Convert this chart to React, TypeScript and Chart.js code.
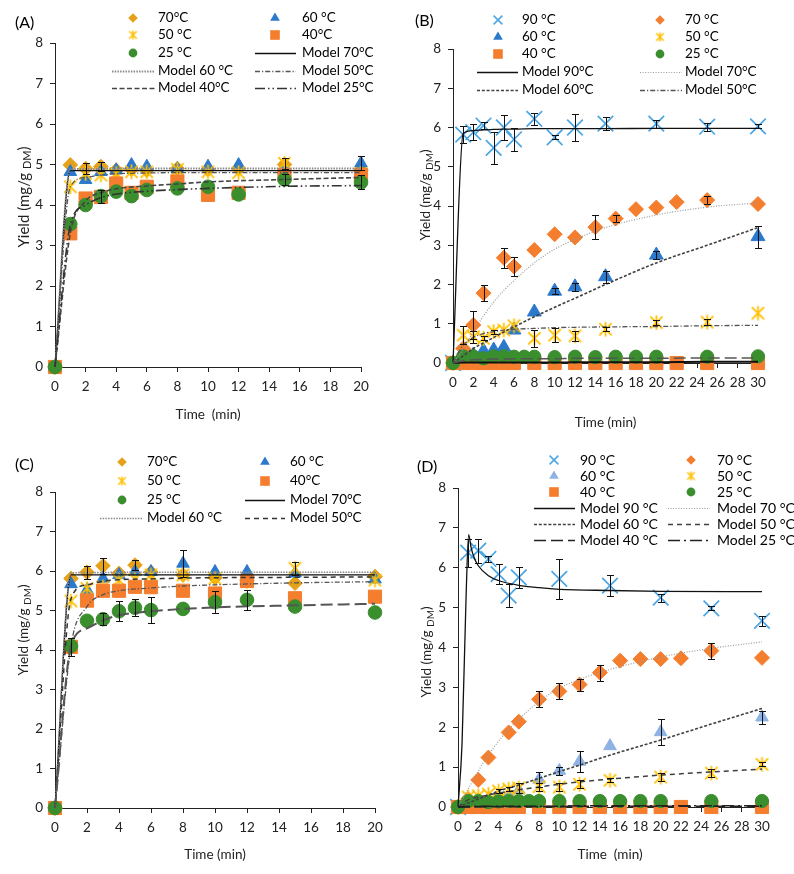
import React, { useEffect, useRef } from 'react';
import { Chart, registerables } from 'chart.js';

Chart.register(...registerables);

const FONT = 'Lato, "Open Sans", "DejaVu Sans", sans-serif';

const GOLD = '#E6A11B';
const BLUE = '#2C79CC';
const YELLOW = '#FFC000';
const ORANGE = '#F47E2E';
const GREEN = '#3A8E2E';
const SKY = '#4AA6E4';
const PALE = '#8EB2E4';

// ---------------- Panel A data ----------------
const A_T = [0, 1, 2, 3, 4, 5, 6, 8, 10, 12, 15, 20];
const A_70 = [0, 4.99, 4.9, 4.95, 4.86, 4.88, 4.86, 4.9, 4.88, 4.9, 5.0, 4.86];
const A_60 = [0, 4.82, 4.62, 4.82, 4.86, 4.99, 4.95, 4.89, 4.95, 4.99, 4.88, 5.03];
const A_50 = [0, 4.45, 4.78, 4.74, 4.78, 4.82, 4.82, 4.88, 4.82, 4.8, 5.03, 4.78];
const A_40 = [0, 3.3, 4.16, 4.2, 4.53, 4.3, 4.45, 4.58, 4.25, 4.3, 4.74, 4.74];
const A_25 = [0, 3.53, 4.0, 4.22, 4.33, 4.22, 4.37, 4.41, 4.45, 4.26, 4.63, 4.56];
const A_E70 = [0, 0, 0.13, 0.1, 0, 0, 0, 0, 0, 0, 0, 0];
const A_E60 = [0, 0, 0, 0, 0, 0, 0, 0, 0, 0, 0, 0.17];
const A_E50 = [0, 0, 0, 0, 0, 0, 0, 0, 0, 0, 0.14, 0];
const A_E25 = [0, 0, 0, 0.16, 0, 0, 0, 0, 0, 0, 0.14, 0.17];
const A_MT = [0, 1, 2, 3, 4, 6, 8, 10, 15, 20];
const A_M70 = [0, 4.85, 4.85, 4.85, 4.85, 4.85, 4.85, 4.85, 4.85, 4.85];
const A_M60 = [0, 4.88, 4.89, 4.89, 4.9, 4.9, 4.9, 4.9, 4.9, 4.9];
const A_M50 = [0, 4.45, 4.68, 4.74, 4.77, 4.79, 4.8, 4.8, 4.8, 4.8];
const A_M40 = [0, 3.3, 4.1, 4.3, 4.4, 4.47, 4.52, 4.57, 4.63, 4.68];
const A_M25 = [0, 3.5, 4.0, 4.18, 4.27, 4.34, 4.38, 4.41, 4.46, 4.48];

// ---------------- Panel B data ----------------
const B_T90 = [0, 1, 2, 3, 4, 5, 6, 8, 10, 12, 15, 20, 25, 30];
const B_90 = [0, 5.82, 5.88, 6.05, 5.48, 6.0, 5.7, 6.22, 5.75, 6.0, 6.1, 6.1, 6.02, 6.03];
const B_E90 = [0, 0.22, 0.2, 0.08, 0.4, 0.33, 0.3, 0.15, 0.05, 0.35, 0.17, 0.1, 0.1, 0.05];
const B_T70 = [0, 1, 2, 3, 5, 6, 8, 10, 12, 14, 16, 18, 20, 22, 25, 30];
const B_70 = [0, 0.37, 0.97, 1.78, 2.68, 2.46, 2.88, 3.28, 3.2, 3.46, 3.68, 3.92, 3.96, 4.1, 4.15, 4.05];
const B_E70 = [0, 0, 0.35, 0.2, 0.25, 0.25, 0, 0, 0, 0.3, 0.1, 0, 0, 0, 0.1, 0];
const B_T60 = [0, 1, 2, 3, 4, 5, 6, 8, 10, 12, 15, 20, 30];
const B_60 = [0, 0.15, 0.2, 0.31, 0.33, 0.4, 0.84, 1.3, 1.83, 1.94, 2.2, 2.75, 3.22];
const B_E60 = [0, 0, 0, 0, 0, 0, 0, 0, 0.07, 0.1, 0.15, 0.1, 0.28];
const B_T50 = [0, 1, 2, 3, 4, 5, 6, 8, 10, 12, 15, 20, 25, 30];
const B_50 = [0, 0.71, 0.67, 0.63, 0.8, 0.84, 0.95, 0.63, 0.71, 0.69, 0.86, 1.03, 1.04, 1.27];
const B_E50 = [0, 0.22, 0.15, 0.05, 0.05, 0, 0, 0.22, 0.17, 0.13, 0.05, 0.07, 0.08, 0];
const B_T40 = [0, 1, 2, 3, 4, 5, 6, 8, 10, 12, 14, 16, 18, 20, 22, 25, 30];
const B_40 = [0, 0, 0, 0, 0, 0, 0, 0, 0, 0, 0, 0, 0, 0, 0, 0, 0];
const B_T25 = [0, 1, 2, 3, 4, 5, 6, 7, 8, 10, 12, 14, 16, 18, 20, 25, 30];
const B_25 = [0, 0.17, 0.17, 0.12, 0.17, 0.17, 0.16, 0.16, 0.16, 0.15, 0.16, 0.15, 0.16, 0.16, 0.16, 0.16, 0.17];
const B_MT = [0, 1, 2, 3, 4, 5, 6, 8, 10, 12, 15, 20, 25, 30];
const B_M90 = [0, 5.85, 5.92, 5.94, 5.95, 5.96, 5.96, 5.97, 5.97, 5.97, 5.97, 5.98, 5.98, 5.98];
const B_M70 = [0, 0.35, 0.8, 1.2, 1.55, 1.85, 2.1, 2.55, 2.9, 3.15, 3.45, 3.77, 3.97, 4.08];
const B_M60 = [0, 0.18, 0.37, 0.51, 0.65, 0.79, 0.92, 1.18, 1.42, 1.65, 2.0, 2.55, 3.0, 3.45];
const B_M50 = [0, 0.45, 0.65, 0.75, 0.8, 0.84, 0.86, 0.88, 0.9, 0.91, 0.92, 0.93, 0.95, 0.96];
const B_M40 = [0, 0.01, 0.01, 0.01, 0.01, 0.01, 0.01, 0.01, 0.01, 0.02, 0.02, 0.02, 0.03, 0.03];
const B_M25 = [0, 0.06, 0.08, 0.09, 0.1, 0.1, 0.11, 0.11, 0.11, 0.12, 0.12, 0.12, 0.13, 0.13];

// ---------------- Panel C data ----------------
const C_T = [0, 1, 2, 3, 4, 5, 6, 8, 10, 12, 15, 20];
const C_70 = [0, 5.81, 5.97, 6.13, 5.94, 6.15, 5.97, 5.9, 5.83, 5.77, 5.69, 5.86];
const C_60 = [0, 5.67, 5.52, 5.81, 5.9, 5.98, 5.98, 6.19, 5.98, 5.98, 5.94, 5.79];
const C_50 = [0, 5.24, 5.56, 5.6, 5.77, 5.79, 5.9, 5.9, 5.81, 5.73, 6.07, 5.77];
const C_40 = [0, 4.08, 5.25, 5.5, 5.5, 5.6, 5.59, 5.5, 5.43, 5.75, 5.31, 5.35];
const C_25 = [0, 4.1, 4.74, 4.78, 4.98, 5.07, 5.01, 5.04, 5.21, 5.27, 5.1, 4.95];
const C_E70 = [0, 0, 0.16, 0.2, 0, 0.13, 0, 0, 0, 0, 0, 0];
const C_E60 = [0, 0, 0, 0, 0, 0, 0, 0.35, 0, 0, 0, 0];
const C_E50 = [0, 0, 0, 0, 0, 0, 0, 0, 0, 0, 0.17, 0];
const C_E40 = [0, 0.22, 0, 0, 0, 0, 0, 0, 0, 0, 0, 0];
const C_E25 = [0, 0, 0, 0.15, 0.25, 0.22, 0.33, 0, 0.28, 0.25, 0, 0];
const C_MT = [0, 1, 2, 3, 4, 6, 8, 10, 15, 20];
const C_M70 = [0, 5.9, 5.9, 5.9, 5.9, 5.9, 5.9, 5.9, 5.9, 5.9];
const C_M60 = [0, 5.95, 5.96, 5.96, 5.97, 5.97, 5.97, 5.97, 5.97, 5.97];
const C_M50 = [0, 5.3, 5.65, 5.74, 5.78, 5.8, 5.82, 5.83, 5.84, 5.85];
const C_M40 = [0, 4.1, 5.1, 5.4, 5.5, 5.57, 5.62, 5.65, 5.7, 5.73];
const C_M25 = [0, 4.1, 4.55, 4.75, 4.88, 4.98, 5.04, 5.08, 5.13, 5.17];

// ---------------- Panel D data ----------------
const D_T90 = [0, 1, 2, 3, 4, 5, 6, 10, 15, 20, 25, 30];
const D_90 = [0, 6.38, 6.43, 6.22, 5.84, 5.3, 5.76, 5.72, 5.55, 5.25, 4.98, 4.67];
const D_E90 = [0, 0.35, 0.3, 0.08, 0.25, 0.28, 0.27, 0.5, 0.27, 0.1, 0.05, 0.13];
const D_T70 = [0, 1, 2, 3, 5, 6, 8, 10, 12, 14, 16, 18, 20, 22, 25, 30];
const D_70 = [0, 0.2, 0.68, 1.24, 1.87, 2.14, 2.7, 2.9, 3.07, 3.37, 3.67, 3.71, 3.71, 3.73, 3.92, 3.74];
const D_E70 = [0, 0, 0, 0, 0, 0, 0.2, 0.2, 0.15, 0.2, 0, 0, 0, 0, 0.2, 0];
const D_T60 = [0, 1, 2, 3, 4, 5, 6, 8, 10, 12, 15, 20, 30];
const D_60 = [0, 0.15, 0.17, 0.2, 0.24, 0.3, 0.42, 0.69, 0.91, 1.14, 1.53, 1.88, 2.25];
const D_E60 = [0, 0, 0, 0, 0, 0, 0, 0.2, 0.1, 0.27, 0, 0.33, 0.17];
const D_T50 = [0, 1, 2, 3, 4, 5, 6, 8, 10, 12, 15, 20, 25, 30];
const D_50 = [0, 0.25, 0.28, 0.32, 0.4, 0.45, 0.48, 0.51, 0.5, 0.57, 0.67, 0.75, 0.85, 1.07];
const D_E50 = [0, 0, 0, 0, 0.05, 0.05, 0.12, 0.1, 0.1, 0.1, 0.05, 0.1, 0.1, 0.05];
const D_T40 = [0, 1, 2, 3, 4, 5, 6, 8, 10, 12, 14, 16, 18, 20, 22, 25, 30];
const D_40 = [0, 0, 0, 0, 0, 0, 0, 0, 0, 0, 0, 0, 0, 0, 0, 0, 0];
const D_T25 = [0, 1, 2, 3, 4, 5, 6, 7, 8, 10, 12, 14, 16, 18, 20, 25, 30];
const D_25 = [0, 0.15, 0.15, 0.12, 0.14, 0.15, 0.15, 0.15, 0.15, 0.15, 0.15, 0.15, 0.15, 0.15, 0.15, 0.15, 0.15];
const D_MT90 = [0, 0.4, 0.8, 1.05, 1.3, 1.6, 2, 3, 4, 6, 8, 10, 15, 20, 30];
const D_M90 = [0, 1.6, 5.3, 6.83, 6.5, 6.25, 6.05, 5.8, 5.68, 5.56, 5.5, 5.46, 5.43, 5.41, 5.4];
const D_MT = [0, 1, 2, 3, 4, 5, 6, 8, 10, 12, 15, 20, 25, 30];
const D_M70 = [0, 0.45, 0.9, 1.3, 1.65, 1.95, 2.2, 2.65, 2.98, 3.2, 3.45, 3.76, 3.98, 4.14];
const D_M60 = [0, 0.1, 0.2, 0.3, 0.4, 0.48, 0.55, 0.72, 0.89, 1.05, 1.3, 1.68, 2.08, 2.47];
const D_M50 = [0, 0.18, 0.25, 0.3, 0.35, 0.39, 0.43, 0.5, 0.57, 0.63, 0.7, 0.8, 0.88, 0.95];
const D_M40 = [0, 0.01, 0.01, 0.01, 0.01, 0.01, 0.01, 0.01, 0.01, 0.02, 0.02, 0.02, 0.02, 0.02];
const D_M25 = [0, 0.01, 0.01, 0.02, 0.02, 0.02, 0.02, 0.02, 0.02, 0.03, 0.03, 0.03, 0.03, 0.03];

const Y_TICKS_MAX = 8;

// ---------------- types & config ----------------
type Marker = 'circle' | 'rect' | 'rectRot' | 'triangle' | 'crossRot' | 'asterisk';
interface MS { name: string; t: number[]; v: number[]; e?: number[]; style: Marker; color: string; r: number; }
interface LS { name: string; t: number[]; v: number[]; dash: number[]; color: string; width: number; }
interface Col { m: number; l0: number; l1: number; tx: number; }
interface PanelCfg {
  id: string; left: number; top: number; xmax: number;
  area: { l: number; r: number; t: number; b: number };
  xTitle: string; xTitlePad: number;
  yTitle: { x: number; y: number; size: number };
  label: { x: number; y: number };
  markers: MS[]; lines: LS[];
  legend: { names: string[]; cols: Col[]; rows: number[]; size: number };
}

const W = 397;
const H = 437;

const SOLID: number[] = [];
const DOT_GRAY = [1.5, 1.2];
const DOT_FINE = [1, 1.6];
const DASH_DOT = [5, 2, 1.2, 2];
const DASH = [5, 2.5];
const DASH_SHORT = [3, 1.8];
const DASH_MED = [5, 4];
const LONG_DASH = [12, 5];
const LONG_DASH_DOT_DOT = [10, 3, 1.5, 3, 1.5, 3];
const LONG_DASH_DOT = [12, 4, 2, 4];

const PANELS: PanelCfg[] = [
  {
    id: 'A', left: 0, top: 0, xmax: 20,
    area: { l: 55, r: 361, t: 43, b: 367 },
    xTitle: 'Time  (min)', xTitlePad: 14,
    yTitle: { x: 24, y: 197, size: 15 },
    label: { x: 15, y: 23 },
    markers: [
      { name: '70°C', t: A_T, v: A_70, e: A_E70, style: 'rectRot', color: GOLD, r: 7.3 },
      { name: '60 °C', t: A_T, v: A_60, e: A_E60, style: 'triangle', color: BLUE, r: 7.3 },
      { name: '50 °C', t: A_T, v: A_50, e: A_E50, style: 'asterisk', color: YELLOW, r: 14.5 },
      { name: '40°C', t: A_T, v: A_40, style: 'rect', color: ORANGE, r: 9.3 },
      { name: '25 °C', t: A_T, v: A_25, e: A_E25, style: 'circle', color: GREEN, r: 6.8 },
    ],
    lines: [
      { name: 'Model 70°C', t: A_MT, v: A_M70, dash: SOLID, color: '#111', width: 1.3 },
      { name: 'Model 60 °C', t: A_MT, v: A_M60, dash: DOT_GRAY, color: '#8a8a8a', width: 2 },
      { name: 'Model 50°C', t: A_MT, v: A_M50, dash: DASH_DOT, color: '#555', width: 1.3 },
      { name: 'Model 40°C', t: A_MT, v: A_M40, dash: DASH, color: '#444', width: 1.6 },
      { name: 'Model 25°C', t: A_MT, v: A_M25, dash: LONG_DASH_DOT_DOT, color: '#333', width: 1.6 },
    ],
    legend: {
      names: ['70°C', '60 °C', '50 °C', '40°C', '25 °C', 'Model 70°C', 'Model 60 °C', 'Model 50°C', 'Model 40°C', 'Model 25°C'],
      cols: [{ m: 133, l0: 112, l1: 155, tx: 158 }, { m: 275, l0: 255, l1: 296, tx: 302 }],
      rows: [18, 35, 53, 71, 88], size: 13.5,
    },
  },
  {
    id: 'B', left: 397, top: 0, xmax: 30,
    area: { l: 56, r: 361, t: 49, b: 363 },
    xTitle: 'Time (min)', xTitlePad: 6,
    yTitle: { x: 29, y: 195, size: 13.5 },
    label: { x: 18, y: 21 },
    markers: [
      { name: '90 °C', t: B_T90, v: B_90, e: B_E90, style: 'crossRot', color: SKY, r: 11 },
      { name: '70 °C', t: B_T70, v: B_70, e: B_E70, style: 'rectRot', color: ORANGE, r: 7.5 },
      { name: '60 °C', t: B_T60, v: B_60, e: B_E60, style: 'triangle', color: BLUE, r: 8 },
      { name: '50 °C', t: B_T50, v: B_50, e: B_E50, style: 'asterisk', color: YELLOW, r: 14.5 },
      { name: '40 °C', t: B_T40, v: B_40, style: 'rect', color: ORANGE, r: 9.3 },
      { name: '25 °C', t: B_T25, v: B_25, style: 'circle', color: GREEN, r: 6.6 },
    ],
    lines: [
      { name: 'Model 90°C', t: B_MT, v: B_M90, dash: SOLID, color: '#111', width: 1.3 },
      { name: 'Model 70°C', t: B_MT, v: B_M70, dash: DOT_FINE, color: '#9a9a9a', width: 1.2 },
      { name: 'Model 60°C', t: B_MT, v: B_M60, dash: DASH_SHORT, color: '#404040', width: 1.6 },
      { name: 'Model 50°C', t: B_MT, v: B_M50, dash: DASH_DOT, color: '#555', width: 1.3 },
      { name: 'Model 40°C', t: B_MT, v: B_M40, dash: SOLID, color: '#111', width: 2 },
      { name: 'Model 25°C', t: B_MT, v: B_M25, dash: LONG_DASH, color: '#555', width: 1.5 },
    ],
    legend: {
      names: ['90 °C', '70 °C', '60 °C', '50 °C', '40 °C', '25 °C', 'Model 90°C', 'Model 70°C', 'Model 60°C', 'Model 50°C'],
      cols: [{ m: 101, l0: 80, l1: 121, tx: 125 }, { m: 263, l0: 243, l1: 285, tx: 288 }],
      rows: [20, 37, 54, 72, 90], size: 13.5,
    },
  },
  {
    id: 'C', left: 0, top: 437, xmax: 20,
    area: { l: 55, r: 375, t: 55, b: 371 },
    xTitle: 'Time (min)', xTitlePad: 11,
    yTitle: { x: 24, y: 193, size: 13.5 },
    label: { x: 15, y: 28 },
    markers: [
      { name: '70°C', t: C_T, v: C_70, e: C_E70, style: 'rectRot', color: GOLD, r: 7.3 },
      { name: '60 °C', t: C_T, v: C_60, e: C_E60, style: 'triangle', color: BLUE, r: 7.3 },
      { name: '50 °C', t: C_T, v: C_50, e: C_E50, style: 'asterisk', color: YELLOW, r: 14.5 },
      { name: '40°C', t: C_T, v: C_40, e: C_E40, style: 'rect', color: ORANGE, r: 9.3 },
      { name: '25 °C', t: C_T, v: C_25, e: C_E25, style: 'circle', color: GREEN, r: 6.8 },
    ],
    lines: [
      { name: 'Model 70°C', t: C_MT, v: C_M70, dash: SOLID, color: '#111', width: 1.3 },
      { name: 'Model 60 °C', t: C_MT, v: C_M60, dash: DOT_GRAY, color: '#8a8a8a', width: 1.6 },
      { name: 'Model 50°C', t: C_MT, v: C_M50, dash: DASH_MED, color: '#333', width: 1.5 },
      { name: 'Model 40°C', t: C_MT, v: C_M40, dash: DASH_DOT, color: '#555', width: 1.3 },
      { name: 'Model 25°C', t: C_MT, v: C_M25, dash: LONG_DASH, color: '#555', width: 2 },
    ],
    legend: {
      names: ['70°C', '60 °C', '50 °C', '40°C', '25 °C', 'Model 70°C', 'Model 60 °C', 'Model 50°C'],
      cols: [{ m: 122, l0: 100, l1: 142, tx: 147 }, { m: 265, l0: 245, l1: 285, tx: 290 }],
      rows: [25, 44, 63, 81], size: 13.5,
    },
  },
  {
    id: 'D', left: 397, top: 437, xmax: 30,
    area: { l: 61, r: 365, t: 51, b: 370 },
    xTitle: 'Time  (min)', xTitlePad: 11,
    yTitle: { x: 30, y: 215, size: 13.5 },
    label: { x: 20, y: 30 },
    markers: [
      { name: '90 °C', t: D_T90, v: D_90, e: D_E90, style: 'crossRot', color: SKY, r: 11 },
      { name: '70 °C', t: D_T70, v: D_70, e: D_E70, style: 'rectRot', color: ORANGE, r: 7.5 },
      { name: '60 °C', t: D_T60, v: D_60, e: D_E60, style: 'triangle', color: PALE, r: 7.3 },
      { name: '50 °C', t: D_T50, v: D_50, e: D_E50, style: 'asterisk', color: YELLOW, r: 14.5 },
      { name: '40 °C', t: D_T40, v: D_40, style: 'rect', color: ORANGE, r: 9.3 },
      { name: '25 °C', t: D_T25, v: D_25, style: 'circle', color: GREEN, r: 6.6 },
    ],
    lines: [
      { name: 'Model 90 °C', t: D_MT90, v: D_M90, dash: SOLID, color: '#111', width: 1.3 },
      { name: 'Model 70 °C', t: D_MT, v: D_M70, dash: DOT_FINE, color: '#9a9a9a', width: 1.2 },
      { name: 'Model 60 °C', t: D_MT, v: D_M60, dash: DASH_SHORT, color: '#404040', width: 1.6 },
      { name: 'Model 50 °C', t: D_MT, v: D_M50, dash: DASH_MED, color: '#404040', width: 1.5 },
      { name: 'Model 40 °C', t: D_MT, v: D_M40, dash: LONG_DASH, color: '#222', width: 1.6 },
      { name: 'Model 25 °C', t: D_MT, v: D_M25, dash: LONG_DASH_DOT, color: '#222', width: 1.6 },
    ],
    legend: {
      names: ['90 °C', '70 °C', '60 °C', '50 °C', '40 °C', '25 °C', 'Model 90 °C', 'Model 70 °C', 'Model 60 °C', 'Model 50 °C', 'Model 40 °C', 'Model 25 °C'],
      cols: [{ m: 157, l0: 137, l1: 178, tx: 183 }, { m: 294, l0: 271, l1: 313, tx: 320 }],
      rows: [23, 39, 55, 71, 87, 103], size: 14,
    },
  },
];

// ---------------- drawing helpers ----------------
function makeAsterisk(size: number, color: string, lw: number): HTMLCanvasElement {
  const n = Math.ceil(size + lw + 2);
  const c = document.createElement('canvas');
  c.width = n;
  c.height = n;
  const g = c.getContext('2d') as CanvasRenderingContext2D;
  const m = n / 2;
  const h = size / 2;
  const d = h * 0.85;
  g.strokeStyle = color;
  g.lineWidth = lw;
  g.beginPath();
  g.moveTo(m, m - h);
  g.lineTo(m, m + h);
  g.moveTo(m - d, m - d);
  g.lineTo(m + d, m + d);
  g.moveTo(m + d, m - d);
  g.lineTo(m - d, m + d);
  g.stroke();
  return c;
}

function drawMarker(ctx: CanvasRenderingContext2D, style: Marker, x: number, y: number, color: string) {
  ctx.save();
  ctx.fillStyle = color;
  ctx.strokeStyle = color;
  ctx.beginPath();
  if (style === 'circle') {
    ctx.arc(x, y, 4.4, 0, Math.PI * 2);
    ctx.fill();
  } else if (style === 'rect') {
    ctx.rect(x - 4.8, y - 4.8, 9.6, 9.6);
    ctx.fill();
  } else if (style === 'rectRot') {
    const r = 4.8;
    ctx.moveTo(x, y - r);
    ctx.lineTo(x + r, y);
    ctx.lineTo(x, y + r);
    ctx.lineTo(x - r, y);
    ctx.closePath();
    ctx.fill();
  } else if (style === 'triangle') {
    const r = 5.6;
    ctx.moveTo(x, y - r);
    ctx.lineTo(x + r * 0.866, y + r * 0.5);
    ctx.lineTo(x - r * 0.866, y + r * 0.5);
    ctx.closePath();
    ctx.fill();
  } else if (style === 'crossRot') {
    const d = 4.4;
    ctx.lineWidth = 1.5;
    ctx.moveTo(x - d, y - d);
    ctx.lineTo(x + d, y + d);
    ctx.moveTo(x + d, y - d);
    ctx.lineTo(x - d, y + d);
    ctx.stroke();
  } else if (style === 'asterisk') {
    const img = makeAsterisk(9, color, 1.5);
    ctx.drawImage(img, x - img.width / 2, y - img.height / 2);
  }
  ctx.restore();
}

function Panel({ cfg }: { cfg: PanelCfg }) {
  const ref = useRef<HTMLCanvasElement>(null);

  useEffect(() => {
    const canvas = ref.current;
    if (!canvas) return;
    const total = cfg.markers.length + cfg.lines.length;
    const nm = cfg.markers.length;

    const markerSets = cfg.markers.map((s, i) => ({
      label: s.name,
      data: s.t.map((t, j) => ({ x: t, y: s.v[j] })),
      errs: s.e || null,
      showLine: false,
      pointStyle: s.style === 'asterisk' ? makeAsterisk(s.r, s.color, 1.8) : s.style,
      pointRadius: s.style === 'asterisk' ? s.r / 2 : s.r,
      pointHoverRadius: s.style === 'asterisk' ? s.r / 2 : s.r,
      pointBackgroundColor: s.color,
      pointBorderColor: s.color,
      pointBorderWidth: s.style === 'crossRot' ? 1.7 : 1,
      backgroundColor: s.color,
      borderColor: s.color,
      clip: false,
      order: total - i,
    }));

    const lineSets = cfg.lines.map((l, k) => ({
      label: l.name,
      data: l.t.map((t, j) => ({ x: t, y: l.v[j] })),
      showLine: true,
      pointRadius: 0,
      pointHoverRadius: 0,
      borderColor: l.color,
      borderWidth: l.width,
      borderDash: l.dash,
      fill: false,
      cubicInterpolationMode: 'monotone',
      clip: false,
      order: total - (nm + k),
    }));

    const errorBars = {
      id: 'errorBars',
      afterDatasetsDraw(chart: any) {
        const ctx = chart.ctx as CanvasRenderingContext2D;
        const xs = chart.scales.x;
        const ys = chart.scales.y;
        ctx.save();
        ctx.strokeStyle = '#111';
        ctx.lineWidth = 1;
        chart.data.datasets.forEach((ds: any) => {
          if (!ds.errs) return;
          ds.data.forEach((p: any, j: number) => {
            const e = ds.errs[j];
            if (!e) return;
            const x = Math.round(xs.getPixelForValue(p.x)) + 0.5;
            const y1 = Math.round(ys.getPixelForValue(p.y - e)) + 0.5;
            const y2 = Math.round(ys.getPixelForValue(p.y + e)) + 0.5;
            ctx.beginPath();
            ctx.moveTo(x, y1);
            ctx.lineTo(x, y2);
            ctx.moveTo(x - 3.5, y1);
            ctx.lineTo(x + 3.5, y1);
            ctx.moveTo(x - 3.5, y2);
            ctx.lineTo(x + 3.5, y2);
            ctx.stroke();
          });
        });
        ctx.restore();
      },
    };

    const decor = {
      id: 'decor',
      afterDraw(chart: any) {
        const ctx = chart.ctx as CanvasRenderingContext2D;
        ctx.save();
        ctx.fillStyle = '#000';
        ctx.textBaseline = 'middle';
        ctx.textAlign = 'left';
        ctx.font = `16px ${FONT}`;
        ctx.fillText(`(${cfg.id})`, cfg.label.x, cfg.label.y);

        // y-axis title with subscript
        const yt = cfg.yTitle;
        ctx.save();
        ctx.translate(yt.x, yt.y);
        ctx.rotate(-Math.PI / 2);
        ctx.fillStyle = '#222';
        const mainFont = `${yt.size}px ${FONT}`;
        const subFont = `${Math.round(yt.size * 0.75)}px ${FONT}`;
        const s1 = 'Yield (mg/g ';
        const s2 = 'DM';
        const s3 = ')';
        ctx.font = mainFont;
        const w1 = ctx.measureText(s1).width;
        const w3 = ctx.measureText(s3).width;
        ctx.font = subFont;
        const w2 = ctx.measureText(s2).width;
        let cx = -(w1 + w2 + w3) / 2;
        ctx.font = mainFont;
        ctx.fillText(s1, cx, 0);
        cx += w1;
        ctx.font = subFont;
        ctx.fillText(s2, cx, yt.size * 0.25);
        cx += w2;
        ctx.font = mainFont;
        ctx.fillText(s3, cx, 0);
        ctx.restore();

        // legend
        const L = cfg.legend;
        L.names.forEach((name, i) => {
          const col = L.cols[i % 2];
          const y = L.rows[Math.floor(i / 2)];
          const m = cfg.markers.find((s) => s.name === name);
          const l = cfg.lines.find((s) => s.name === name);
          if (m) {
            drawMarker(ctx, m.style, col.m, y, m.color);
          } else if (l) {
            ctx.save();
            ctx.beginPath();
            ctx.setLineDash(l.dash);
            ctx.strokeStyle = l.color;
            ctx.lineWidth = l.width;
            ctx.moveTo(col.l0, y + 0.5);
            ctx.lineTo(col.l1, y + 0.5);
            ctx.stroke();
            ctx.restore();
          }
          ctx.font = `${L.size}px ${FONT}`;
          ctx.fillStyle = '#000';
          ctx.textBaseline = 'middle';
          ctx.fillText(name, col.tx, y);
        });
        ctx.restore();
      },
    };

    const axisCommon = {
      grid: { drawOnChartArea: false, drawTicks: true, tickLength: 5, color: '#222', lineWidth: 1 },
      border: { display: true, color: '#222', width: 1 },
    };

    const chart = new Chart(canvas, {
      type: 'line',
      data: { datasets: [...markerSets, ...lineSets] as any },
      options: {
        animation: false,
        responsive: false,
        maintainAspectRatio: false,
        devicePixelRatio: 1,
        events: [],
        layout: { padding: { top: cfg.area.t, left: 0, right: W - cfg.area.r, bottom: 0 } },
        plugins: { legend: { display: false }, tooltip: { enabled: false }, title: { display: false } },
        scales: {
          x: {
            type: 'linear',
            min: 0,
            max: cfg.xmax,
            ticks: { stepSize: 2, color: '#222', font: { size: 13.5, family: FONT }, padding: 7, maxRotation: 0 },
            ...axisCommon,
            title: {
              display: true,
              text: cfg.xTitle,
              color: '#222',
              font: { size: 13.5, family: FONT },
              padding: { top: 0, bottom: cfg.xTitlePad },
            },
            afterFit: (s: any) => { s.height = H - cfg.area.b; },
          },
          y: {
            type: 'linear',
            min: 0,
            max: Y_TICKS_MAX,
            ticks: { stepSize: 1, color: '#222', font: { size: 13.5, family: FONT }, padding: 7 },
            ...axisCommon,
            afterFit: (s: any) => { s.width = cfg.area.l; },
          },
        },
      } as any,
      plugins: [errorBars, decor],
    });
    return () => chart.destroy();
  }, [cfg]);

  return (
    <div style={{ position: 'absolute', left: cfg.left, top: cfg.top, width: W, height: H }}>
      <canvas ref={ref} width={W} height={H} style={{ width: W, height: H, display: 'block' }} />
    </div>
  );
}

export default function App() {
  return (
    <div style={{ position: 'absolute', left: 0, top: 0, width: 794, height: 874, background: '#fff', overflow: 'hidden' }}>
      {PANELS.map((p) => (
        <Panel key={p.id} cfg={p} />
      ))}
    </div>
  );
}
